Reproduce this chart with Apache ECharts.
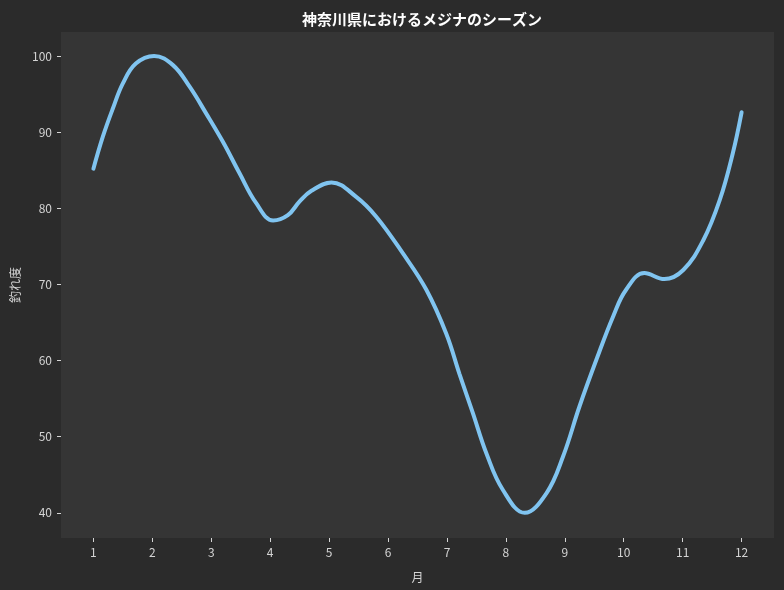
<!DOCTYPE html>
<html>
<head>
<meta charset="utf-8">
<script src="https://cdn.jsdelivr.net/npm/echarts@6/dist/echarts.min.js"></script>
<style>
  html, body { margin: 0; padding: 0; background: #2b2b2b; }
  #chart { width: 784px; height: 590px; }
</style>
</head>
<body>
<div id="chart"></div>
<script>
// points (month, score)
const months = [1.0, 1.16, 1.33, 1.5, 1.72, 2.03, 2.35, 2.63, 2.91, 3.2, 3.48, 3.76, 4.05, 4.3, 4.5, 4.7, 5.04, 5.46, 5.8, 6.25, 6.65, 6.99, 7.21, 7.44, 7.67, 7.95, 8.32, 8.69, 8.97, 9.25, 9.54, 9.82, 10.04, 10.35, 10.69, 11.01, 11.35, 11.63, 11.85, 12.0]
const catchScore = [85.2, 89.4, 93.1, 96.4, 99.0, 100.0, 98.8, 96.0, 92.5, 88.7, 84.6, 80.7, 78.4, 79.1, 80.9, 82.3, 83.4, 81.5, 78.9, 74.1, 69.3, 63.5, 58.3, 53.1, 47.8, 43.0, 40.0, 42.6, 47.4, 54.0, 60.2, 65.8, 69.3, 71.5, 70.7, 71.9, 75.8, 81.1, 87.2, 92.6]
const xTicks = [1, 2, 3, 4, 5, 6, 7, 8, 9, 10, 11, 12]
const yTicks = [40, 50, 60, 70, 80, 90, 100]

const font = '"Noto Sans CJK JP", "Noto Sans", sans-serif'
const tickColor = '#d4d4d4'

const chart = echarts.init(document.getElementById('chart'))
chart.setOption({
  backgroundColor: '#2b2b2b',
  animation: false,
  title: {
    text: '神奈川県におけるメジナのシーズン',
    left: 417,
    top: 7,
    textAlign: 'center',
    textStyle: { color: '#ffffff', fontSize: 15, fontWeight: 'bold', fontFamily: font }
  },
  grid: {
    left: 61, right: 10, top: 32, bottom: 52,
    show: true, backgroundColor: '#353535', borderWidth: 0
  },
  xAxis: {
    type: 'value',
    min: 0.45,
    max: 12.55,
    name: '月',
    nameLocation: 'middle',
    nameGap: 33,
    nameTextStyle: { color: tickColor, fontSize: 12, fontFamily: font },
    axisLine: { show: false },
    splitLine: { show: false },
    axisTick: { show: true, length: 4, customValues: xTicks, lineStyle: { color: tickColor } },
    axisLabel: { customValues: xTicks, color: tickColor, fontSize: 12, fontFamily: font, margin: 8 }
  },
  yAxis: {
    type: 'value',
    min: 36.7,
    max: 103.15,
    name: '釣れ度',
    nameLocation: 'middle',
    nameGap: 40,
    nameTextStyle: { color: tickColor, fontSize: 12, fontFamily: font },
    axisLine: { show: false },
    splitLine: { show: false },
    axisTick: { show: true, length: 4, customValues: yTicks, lineStyle: { color: tickColor } },
    axisLabel: { customValues: yTicks, color: tickColor, fontSize: 12, fontFamily: font, margin: 9 }
  },
  series: [{
    type: 'line',
    data: months.map((m, i) => [m, catchScore[i]]),
    smooth: 0.4,
    showSymbol: false,
    lineStyle: { color: '#80c4f0', width: 4, cap: 'round' }
  }]
})
</script>
</body>
</html>
